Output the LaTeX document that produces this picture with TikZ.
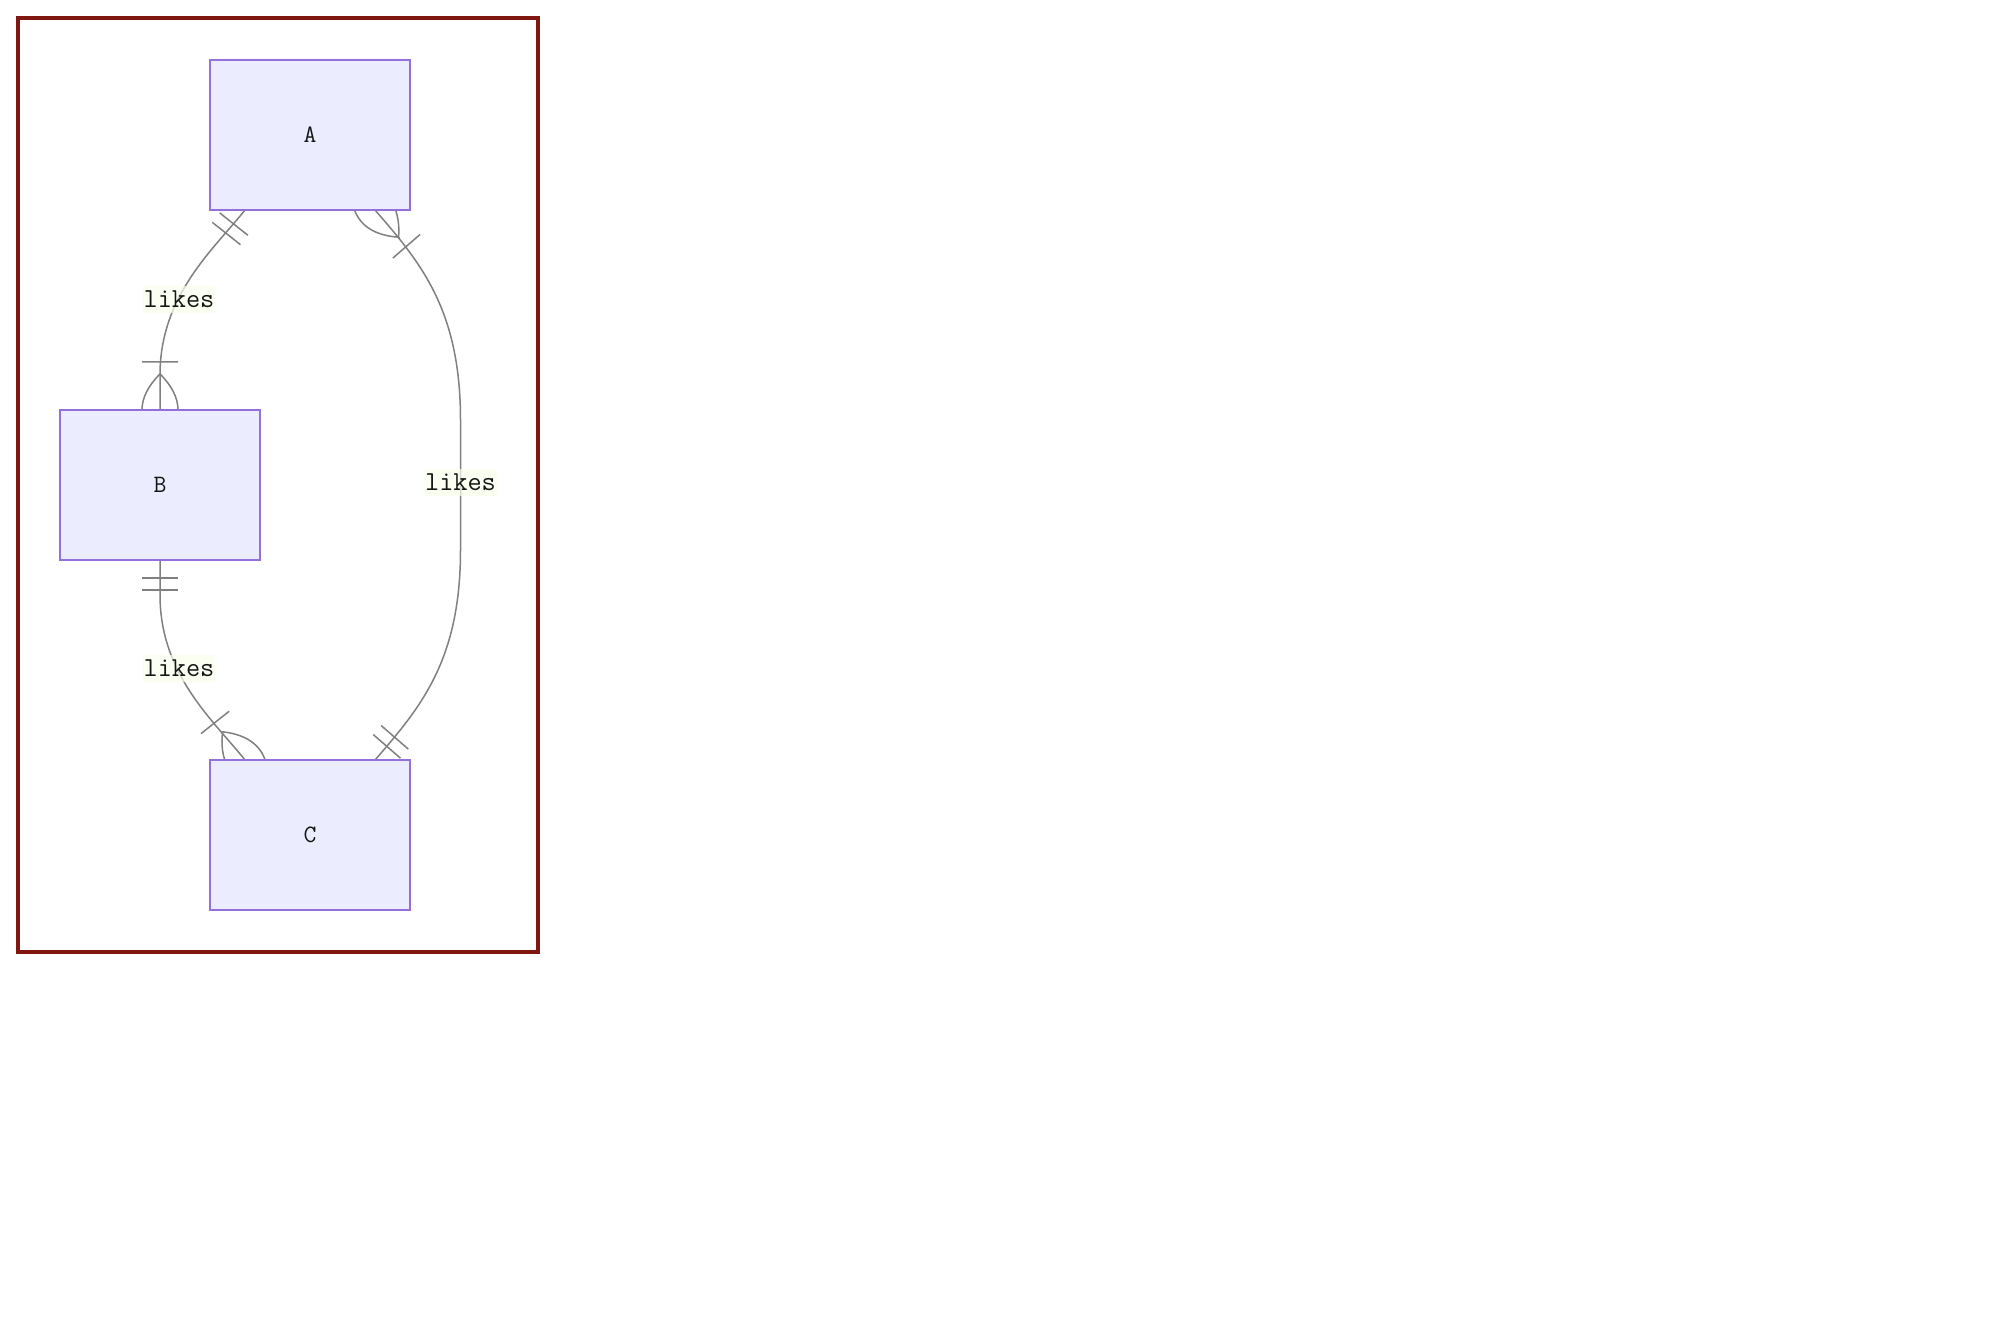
\documentclass[tikz,border=0pt]{standalone}
\usepackage{fontspec}
\usetikzlibrary{calc,decorations.markings,backgrounds}
\definecolor{entfill}{HTML}{ECECFF}
\definecolor{entborder}{HTML}{9370DB}
\definecolor{relgray}{HTML}{808080}
\definecolor{lblbg}{RGB}{249,255,236}
\definecolor{framered}{RGB}{128,22,16}
\definecolor{txt}{HTML}{151515}
\tikzset{
  ent/.style={draw=entborder, fill=entfill, line width=2pt, minimum width=200pt,
    minimum height=150pt, inner sep=0pt, outer sep=0pt, text=txt,
    font=\ttfamily\fontsize{25}{29}\selectfont},
  rel/.style={draw=relgray, line width=1.5pt},
  mk/.style={draw=relgray, line width=1.5pt},
  lbl/.style={fill=lblbg, fill opacity=0.7, text opacity=1, text=txt,
    font=\ttfamily\fontsize{27.5}{31}\selectfont, inner xsep=1pt, inner ysep=0pt,
    minimum height=27pt},
  barsstart/.style={postaction={decorate,decoration={markings,mark=at position 0 with
    {\draw[mk] (18,-18) -- (18,18) (30,-18) -- (30,18);}}}},
  barsend/.style={postaction={decorate,decoration={markings,mark=at position 0.9999 with
    {\draw[mk] (-18,-18) -- (-18,18) (-30,-18) -- (-30,18);}}}},
  crowstart/.style={postaction={decorate,decoration={markings,mark=at position 0 with
    {\draw[mk] (36,0) .. controls (12,24) and (-12,24) .. (-36,0)
       .. controls (-12,-24) and (12,-24) .. cycle (48,-18) -- (48,18);}}}},
  crowend/.style={postaction={decorate,decoration={markings,mark=at position 0.9999 with
    {\draw[mk] (36,0) .. controls (12,24) and (-12,24) .. (-36,0)
       .. controls (-12,-24) and (12,-24) .. cycle (-48,-18) -- (-48,18);}}}},
  frame/.style={draw=framered, line width=4pt}
}
\begin{document}
\begin{tikzpicture}[x=1pt,y=-1pt]
\useasboundingbox (0,0) rectangle (2000,1320);

\node[ent] (A) at (310,135) {A};
\node[ent] (B) at (160,485) {B};
\node[ent] (C) at (310,835) {C};

\coordinate (a1) at ([xshift=-65pt]A.south);
\coordinate (a2) at ([xshift=65pt]A.south);
\coordinate (c1) at ([xshift=-65pt]C.north);
\coordinate (c2) at ([xshift=65pt]C.north);

\begin{scope}[on background layer]
\fill[white] (0,0) rectangle (2000,1320);
\draw[frame] (18,18) rectangle (538,952);
% A -- B
\draw[rel, barsstart, crowend] (a1) .. controls ($(a1)+(-31,39)$) and ($(B.north)+(0,-115)$)
   .. ($(B.north)+(0,-35)$) -- (B.north);
% B -- C
\draw[rel, barsstart, crowend] (B.south) -- ($(B.south)+(0,35)$)
   .. controls ($(B.south)+(0,115)$) and ($(c1)+(-31,-39)$) .. (c1);
% A -- C
\draw[rel, crowstart, barsend] (a2) .. controls ($(a2)+(46,53)$) and (460.5,310)
   .. (460.5,420) -- (460.5,550) .. controls (460.5,660) and ($(c2)+(46,-53)$) .. (c2);
\end{scope}

\node[lbl] (l1) at (179,299) {likes};
\node[lbl] (l2) at (179,668) {likes};
\node[lbl] (l3) at (460.5,482) {likes};
\end{tikzpicture}
\end{document}
